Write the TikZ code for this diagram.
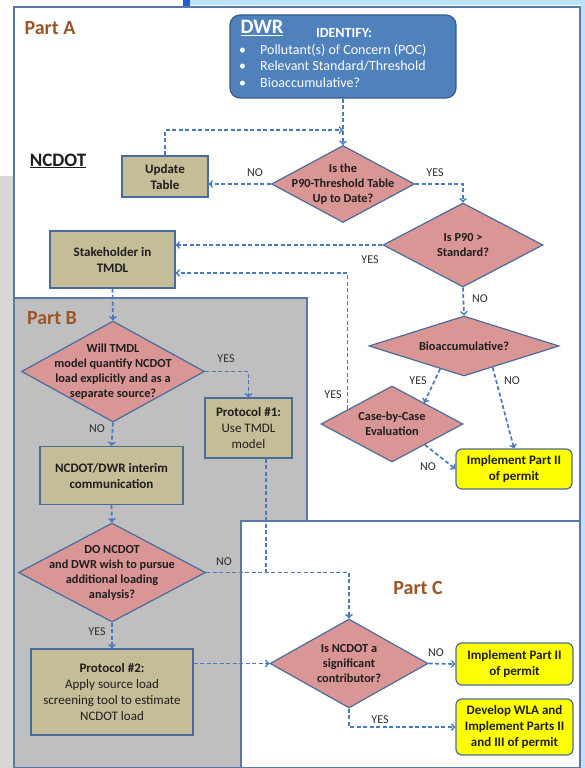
\documentclass[tikz,border=0pt]{standalone}
\usepackage{fontspec}
\setmainfont{Carlito}
\usetikzlibrary{arrows,shapes.geometric,calc}

\definecolor{partbrown}{RGB}{155,85,40}
\definecolor{dwrfill}{RGB}{79,129,189}
\definecolor{dwredge}{RGB}{56,93,138}
\definecolor{tanfill}{RGB}{196,189,151}
\definecolor{pinkfill}{RGB}{217,150,148}
\definecolor{yelfill}{RGB}{255,255,0}
\definecolor{boxedge}{RGB}{74,108,155}
\definecolor{linkblue}{RGB}{72,122,190}
\definecolor{frameline}{RGB}{90,120,165}
\definecolor{partgray}{RGB}{191,191,191}
\definecolor{sidegray}{RGB}{215,215,215}
\definecolor{skyband}{RGB}{190,225,250}
\definecolor{tabblue}{RGB}{40,90,210}
\definecolor{inkdark}{RGB}{30,30,30}
\definecolor{inkgray}{RGB}{45,45,45}

\tikzset{
  tanbox/.style={rectangle,draw=boxedge,fill=tanfill,line width=1.2pt,inner sep=0pt,align=center,text=inkdark,font=\bfseries\fontsize{13}{16}\selectfont},
  yelbox/.style={tanbox,rounded corners=6pt,fill=yelfill},
  dia/.style={diamond,draw=boxedge,fill=pinkfill,line width=1.2pt,inner sep=0pt},
  dtext/.style={align=center,text=inkdark,font=\bfseries\fontsize{12.3}{15}\selectfont},
  link/.style={draw=linkblue,line width=1.7pt,dash pattern=on 4pt off 2.5pt,->,>=to},
  ans/.style={text=inkgray,font=\fontsize{12}{14}\selectfont},
  partlbl/.style={text=partbrown,font=\bfseries\fontsize{20}{24}\selectfont},
  region/.style={draw=frameline,line width=1.2pt}
}

\begin{document}
\begin{tikzpicture}[x=1pt,y=-1pt]
    \useasboundingbox (0,0) rectangle (585,768);
    \fill[white] (0,0) rectangle (585,768);
    \fill[sidegray] (0,176) rectangle (13,768);
    \fill[skyband] (190,0) rectangle (585,5);
    \fill[skyband] (581,0) rectangle (585,768);
    \fill[tabblue] (183,0) rectangle (190,7);

    \draw[region] (14,7) rectangle (580,522);
    \filldraw[region,fill=partgray] (14,298) rectangle (307,768);
    \filldraw[region,fill=white] (241,521) rectangle (580,768);

    \node[partlbl] (parta) at (50,28) {Part A};
    \node[partlbl] (partb) at (52,318) {Part B};
    \node[partlbl] (partc) at (418,588) {Part C};
    \node[text=inkdark,font=\bfseries\fontsize{19}{22}\selectfont] (ncdot) at (58,161) {\underline{NCDOT}};

    \node[rectangle,rounded corners=10pt,draw=dwredge,fill=dwrfill,line width=1.2pt,minimum width=226pt,minimum height=83pt] (dwr) at (343,56.5) {};
    \node[text=white,font=\bfseries\fontsize{20.5}{23}\selectfont] (dwrname) at (262,28) {\underline{DWR}};
    \node[text=white,font=\bfseries\fontsize{14}{16}\selectfont] (dwrask) at (344,33) {IDENTIFY:};
    \node[anchor=west,inner sep=0pt,align=left,text=white,font=\fontsize{14}{16.5}\selectfont] (dwrlist) at (239,65.5)
        {\makebox[21pt][l]{\textbullet}Pollutant(s) of Concern (POC)\\\makebox[21pt][l]{\textbullet}Relevant Standard/Threshold\\\makebox[21pt][l]{\textbullet}Bioaccumulative?};

    \node[tanbox,minimum width=86pt,minimum height=41pt] (upd) at (165,176.5) {Update\\Table};
    \node[tanbox,minimum width=125pt,minimum height=57pt] (stake) at (112.5,259.5) {Stakeholder in\\TMDL};
    \node[tanbox,minimum width=87pt,minimum height=60pt] (prot1) at (248.5,428) {Protocol \#1:\\{\mdseries Use TMDL}\\{\mdseries model}};
    \node[tanbox,minimum width=143pt,minimum height=58pt] (comm) at (111.5,475.5) {NCDOT/DWR interim\\communication};
    \node[tanbox,minimum width=162pt,minimum height=86pt] (prot2) at (112,692) {Protocol \#2:\\{\mdseries Apply source load}\\{\mdseries screening tool to estimate}\\{\mdseries NCDOT load}};

    \node[yelbox,minimum width=116pt,minimum height=40pt] (impa) at (514,469) {Implement Part II\\of permit};
    \node[yelbox,minimum width=117pt,minimum height=42pt] (impc) at (514.5,664) {Implement Part II\\of permit};
    \node[yelbox,minimum width=117pt,minimum height=56pt] (wla) at (514.5,727) {Develop WLA and\\Implement Parts II\\and III of permit};

    \node[dia,minimum width=143pt,minimum height=77pt,label={[dtext]center:Is the\\P90-Threshold Table\\Up to Date?}] (d1) at (343,184) {};
    \node[dia,minimum width=160pt,minimum height=84pt,label={[dtext]center:Is P90 >\\Standard?}] (d2) at (463,245) {};
    \node[dia,minimum width=190pt,minimum height=60pt,label={[dtext]center:Bioaccumulative?}] (bio) at (464,346) {};
    \node[dia,minimum width=142pt,minimum height=76pt,label={[dtext]center:Case-by-Case\\Evaluation}] (case) at (392,424) {};
    \node[dia,minimum width=183pt,minimum height=101pt,label={[dtext]center:Will TMDL\\model quantify NCDOT\\load explicitly and as a\\separate source?}] (b1) at (113,371.5) {};
    \node[dia,minimum width=187pt,minimum height=99pt,label={[dtext]center:DO NCDOT\\and DWR wish to pursue\\additional loading\\analysis?}] (b2) at (112,572.5) {};
    \node[dia,minimum width=158pt,minimum height=89pt,label={[dtext]center:Is NCDOT a\\significant\\contributor?}] (dc) at (349,663.5) {};

    \coordinate (updjoin) at (343,130);
    \coordinate (caseyes) at ($(case.west)!0.38!(case.north)$);
    \coordinate (stakelow) at ([yshift=-13.5pt]stake.east);

    \draw[link] (dwr.south) -- (d1.north);
    \draw[link] (upd.north) |- (updjoin);
    \draw[link] (d1.west) -- (d1.west -| upd.east);
    \draw[link] (d1.east) -| (d2.north);
    \draw[link] (d2.west) -- (d2.west -| stake.east);
    \draw[link] (d2.south) -- (bio.north);
    \draw[link] ($(bio.west)!0.75!(bio.south)$) -- ($(case.north)!0.45!(case.east)$);
    \draw[link] ($(bio.south)!0.3!(bio.east)$) -- (impa.north);
    \draw[link] ($(case.south)!0.46!(case.east)$) -- (impa.west);
    \draw[link] (caseyes) |- (stakelow);
    \draw[link] (stake.south) -- (b1.north);
    \draw[link] (b1.east) -| (prot1.north);
    \draw[link] (b1.south) -- (comm.north);
    \draw[link] (comm.south) -- (b2.north);
    \draw[link] (b2.south) -- (prot2.north);
    \draw[link] (b2.east) -| (dc.north);
    \draw[link,-] ([xshift=17.5pt]prot1.south) -- ([xshift=17.5pt]prot1.south |- b2.east);
    \draw[link] (dc.west -| prot2.east) -- (dc.west);
    \draw[link] (dc.east) -- (impc.west);
    \draw[link] (dc.south) |- (wla.west);

    \node[ans] (updno) at (255,173) {NO};
    \node[ans] (d1yes) at (435,173) {YES};
    \node[ans] (d2yes) at (370,260) {YES};
    \node[ans] (d2no) at (480,299) {NO};
    \node[ans] (bioyes) at (418,381) {YES};
    \node[ans] (biono) at (512,381) {NO};
    \node[ans] (caseyeslbl) at (333,395) {YES};
    \node[ans] (caseno) at (428,467) {NO};
    \node[ans] (b1yes) at (226,359) {YES};
    \node[ans] (b1no) at (97,429) {NO};
    \node[ans] (b2no) at (224,562) {NO};
    \node[ans] (b2yes) at (97,632) {YES};
    \node[ans] (dcno) at (436,653) {NO};
    \node[ans] (dcyes) at (380,720) {YES};
\end{tikzpicture}
\end{document}
